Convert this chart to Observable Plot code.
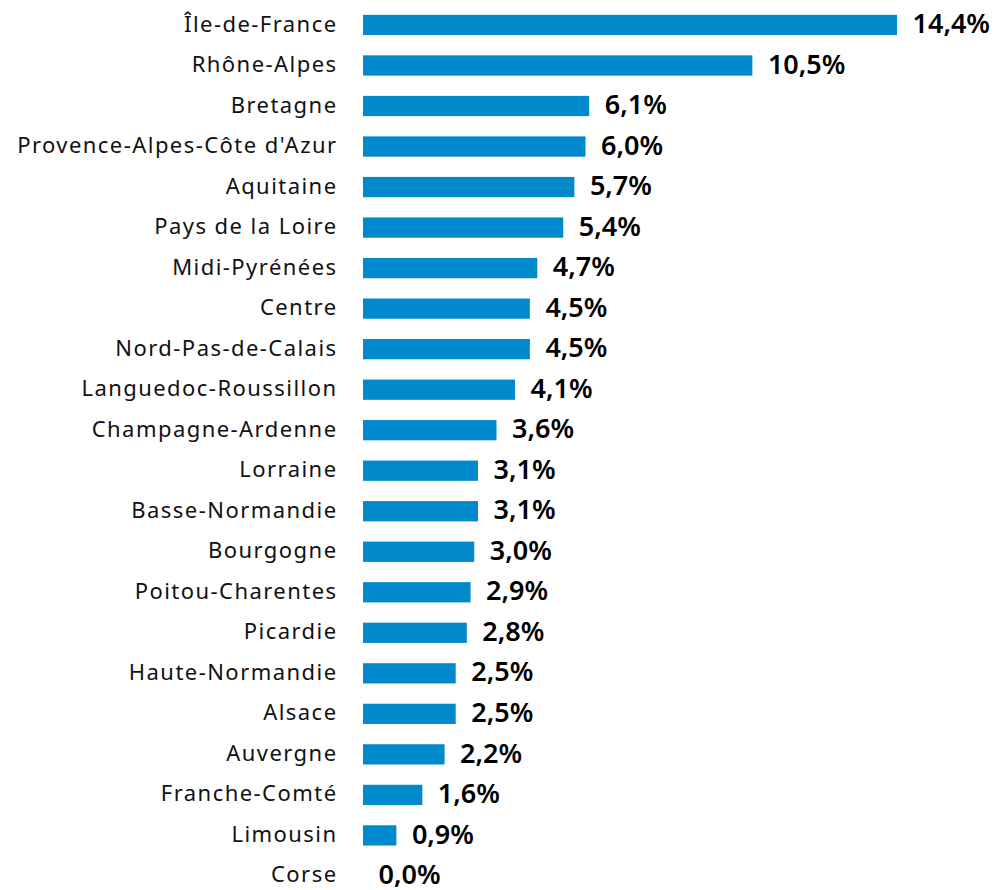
<!DOCTYPE html>
<html><head><meta charset="utf-8">
<script src="https://cdn.jsdelivr.net/npm/d3@7"></script>
<script src="https://cdn.jsdelivr.net/npm/@observablehq/plot@0.6"></script>
<style>
html,body{margin:0;padding:0;background:#fff;}
</style>
</head><body>
<div id="chart"></div>
<script>
const regions = ["Île-de-France","Rhône-Alpes","Bretagne","Provence-Alpes-Côte d'Azur","Aquitaine","Pays de la Loire","Midi-Pyrénées","Centre","Nord-Pas-de-Calais","Languedoc-Roussillon","Champagne-Ardenne","Lorraine","Basse-Normandie","Bourgogne","Poitou-Charentes","Picardie","Haute-Normandie","Alsace","Auvergne","Franche-Comté","Limousin","Corse"];
const values = [14.4,10.5,6.1,6.0,5.7,5.4,4.7,4.5,4.5,4.1,3.6,3.1,3.1,3.0,2.9,2.8,2.5,2.5,2.2,1.6,0.9,0.0];
const data = regions.map((r,i)=>({region:r, value:values[i]}));
const fmt = v => v.toFixed(1).replace(".", ",") + "%";

const chart = Plot.plot({
  width: 998,
  height: 890,
  marginLeft: 363,
  marginRight: 101,
  marginTop: 0,
  marginBottom: 0,
  style: {fontFamily: "'Noto Sans', sans-serif", background: "#fff"},
  x: {domain: [0, 14.4], axis: null},
  y: {domain: regions, range: [4.7, 896.2], paddingInner: 0.5, paddingOuter: 0.25, round: false, axis: null},
  marks: [
    Plot.barX(data, {x: "value", y: "region", fill: "#0089CB"}),
    Plot.text(data, {x: 0, y: "region", text: "region", textAnchor: "end", dx: -26, fontSize: 22, fill: "#111", dy: -1}),
    Plot.text(data, {x: "value", y: "region", text: d => fmt(d.value), textAnchor: "start", dx: 15, fontSize: 27, fontWeight: 600, fill: "#000", dy: -1})
  ]
});
const textGroups = chart.querySelectorAll('g[aria-label="text"]');
if (textGroups[0]) textGroups[0].style.letterSpacing = "1.45px";
document.getElementById("chart").appendChild(chart);
</script>
</body></html>
